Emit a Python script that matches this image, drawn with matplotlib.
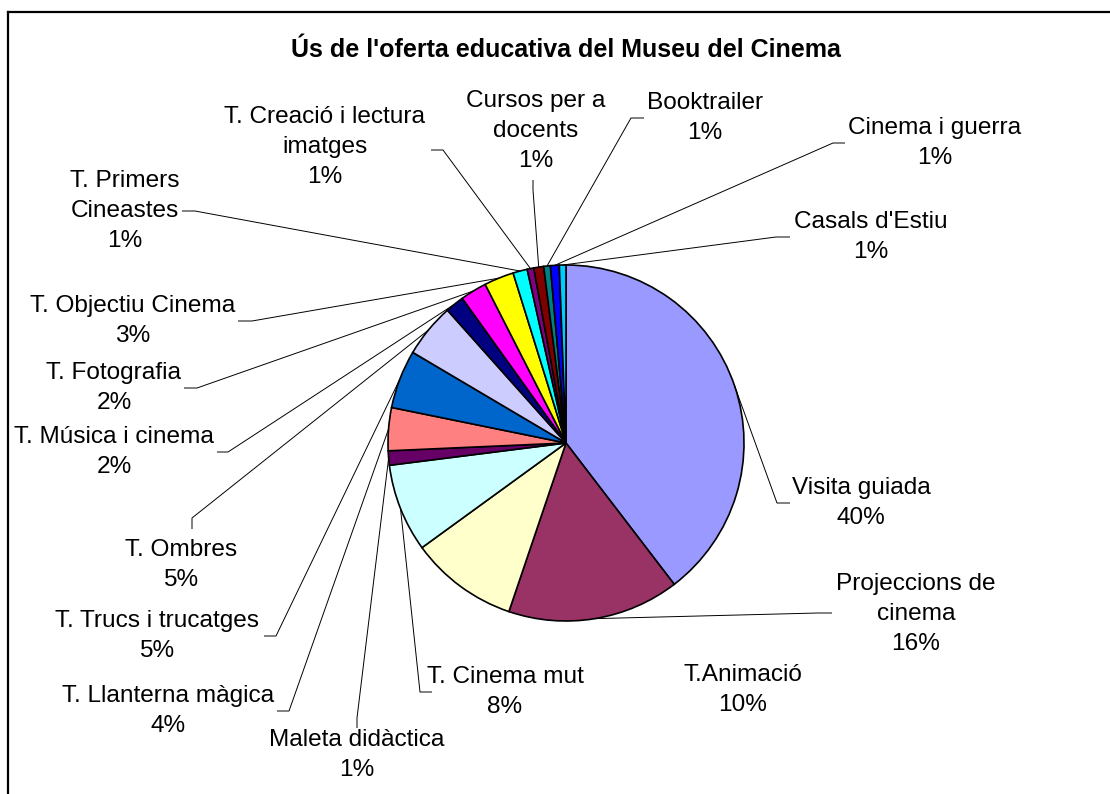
import matplotlib
matplotlib.use("Agg")
import matplotlib.pyplot as plt
import math

# ---------------- data ----------------
categories = [
    "Visita guiada", "Projeccions de\ncinema", "T.Animació", "T. Cinema mut",
    "Maleta didàctica", "T. Llanterna màgica", "T. Trucs i trucatges", "T. Ombres",
    "T. Música i cinema", "T. Fotografia", "T. Objectiu Cinema", "T. Primers\nCineastes",
    "T. Creació i lectura\nimatges", "Cursos per a\ndocents", "Booktrailer",
    "Cinema i guerra", "Casals d'Estiu",
]
values = [39.6, 15.6, 9.8, 8.0, 1.3, 3.9, 5.3, 4.9, 1.7, 2.4, 2.7, 1.3, 0.6, 0.9, 0.6, 0.8, 0.6]
colors = [
    "#9999FF", "#993366", "#FFFFCC", "#CCFFFF", "#660066", "#FF8080", "#0066CC",
    "#CCCCFF", "#000080", "#FF00FF", "#FFFF00", "#00FFFF", "#800080", "#800000",
    "#008080", "#0000FF", "#00CCFF",
]
title = "Ús de l'oferta educativa del Museu del Cinema"

# ---------------- layout (pixel coordinates, y downward) ----------------
W, H = 1110, 794
CENTER = (566, 443)
RADIUS = 178
# label centre, leader elbow, leader end (None = no leader)
layout = [
    ((861, 503), (777, 503), (790, 503)),
    ((916, 614), (818, 613), (832, 613)),
    ((743, 690), None, None),
    ((505, 692), (420, 692), (432, 692)),
    ((357, 755), (357, 718), (357, 728)),
    ((168, 711), (289, 711), (277, 711)),
    ((157, 636), (276, 636), (264, 636)),
    ((181, 565), (192, 518), (192, 529)),
    ((114, 452), (228, 452), (217, 452)),
    ((114, 388), (197, 388), (184, 388)),
    ((133, 321), (252, 321), (238, 321)),
    ((125, 211), (195, 211), (182, 211)),
    ((325, 147), (443, 150), (431, 150)),
    ((536, 131), (533, 190), (533, 180)),
    ((705, 118), (631, 118), (644, 118)),
    ((935, 143), (833, 143), (845, 143)),
    ((871, 237), (776, 237), (790, 237)),
]

plt.rcParams['font.family'] = ['Liberation Sans', 'DejaVu Sans']

fig = plt.figure(figsize=(W / 100, H / 100), dpi=100)
ax = fig.add_axes([0, 0, 1, 1])

wedges, _ = ax.pie(
    values, colors=colors, startangle=-90, counterclock=True,
    center=CENTER, radius=RADIUS,
    wedgeprops=dict(edgecolor="black", linewidth=1.2),
)
ax.set_xlim(0, W)
ax.set_ylim(H, 0)
ax.set_aspect('auto')
ax.axis('off')

total = sum(values)
for w, cat, v, (lab, elbow, end) in zip(wedges, categories, values, layout):
    pct = round(100 * v / total)
    ax.text(lab[0], lab[1], f"{cat}\n{pct}%", ha='center', va='center',
            multialignment='center', fontsize=17.6, linespacing=1.45, color='black')
    if elbow is not None:
        mid = math.radians((w.theta1 + w.theta2) / 2)
        ax0 = w.center[0] + w.r * math.cos(mid)
        ay0 = w.center[1] + w.r * math.sin(mid)
        ax.plot([ax0, elbow[0], end[0]], [ay0, elbow[1], end[1]],
                color='black', lw=0.7, solid_capstyle='butt')

ax.text(566, 50, title, ha='center', va='center', fontsize=18,
        fontweight='bold', color='black')

# chart frame (only top and left edges visible)
ax.plot([8, W + 5], [12, 12], color='black', lw=1.6, solid_capstyle='projecting')
ax.plot([8, 8], [12, H + 5], color='black', lw=1.6, solid_capstyle='projecting')

fig.savefig("out.png", dpi=100, facecolor='white')
